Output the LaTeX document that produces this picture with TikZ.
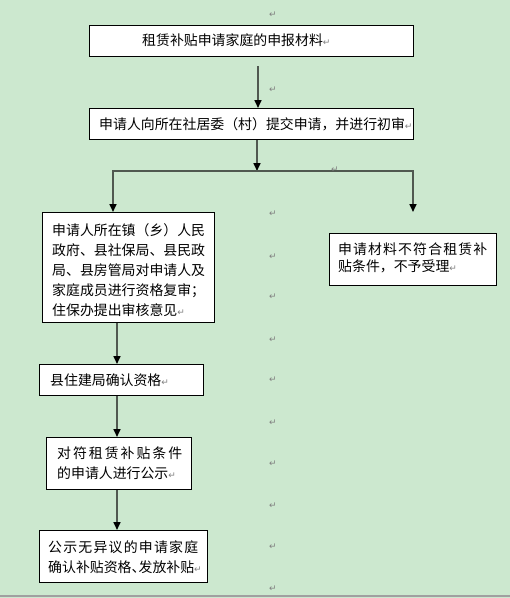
\documentclass[tikz,border=0pt]{standalone}
\usepackage{fontspec}
\usetikzlibrary{arrows.meta}
\newfontfamily\cjk{Noto Sans CJK SC}
\newfontfamily\pmfont{DejaVu Sans}
\definecolor{bgc}{RGB}{204,232,207}
\definecolor{pmgray}{RGB}{128,128,128}
\definecolor{lineclr}{RGB}{80,88,80}
\definecolor{bottomgray}{RGB}{160,160,160}
\newcommand{\pmk}{{\pmfont\fontsize{9pt}{9pt}\selectfont\color{pmgray}↵}}
\tikzset{
  box/.style={draw=black, fill=white, line width=1.2pt, inner sep=0pt, anchor=north west},
  txt/.style={font=\cjk\fontsize{13.9pt}{20pt}\selectfont, inner sep=0pt, anchor=west, align=left},
  pm/.style={font=\pmfont\fontsize{9pt}{9pt}\selectfont, text=pmgray, inner sep=0pt},
  conn/.style={draw=lineclr, line width=1.6pt},
  arr/.style={conn, -{Triangle[length=8pt,width=7pt,color=black]}}
}
\begin{document}
\begin{tikzpicture}[x=1pt,y=-1pt]
\path[fill=bgc, use as bounding box] (0,0) rectangle (510,598);
\draw[bottomgray, line width=2pt] (0,595.5) -- (510,595.5);

% boxes
\node[box, minimum width=324pt, minimum height=31pt] (b1) at (89,25) {};
\node[box, minimum width=324pt, minimum height=31pt] (b2) at (89,108) {};
\node[box, minimum width=172.5pt, minimum height=110pt] (bl) at (41.5,212) {};
\node[box, minimum width=167pt, minimum height=52pt] (br) at (329,233) {};
\node[box, minimum width=164pt, minimum height=31pt] (b3) at (39,364) {};
\node[box, minimum width=145pt, minimum height=52pt] (b4) at (46,437) {};
\node[box, minimum width=168pt, minimum height=52pt] (b5) at (39,530) {};

% texts
\node[txt] (t1) at (142,40.5) {租赁补贴申请家庭的申报材料\pmk};
\node[txt] (t2) at (99,124) {申请人向所在社居委（村）提交申请，并进行初审\pmk};
\node[txt] (tl) at (52,270) {申请人所在镇（乡）人民\\政府、县社保局、县民政\\局、县房管局对申请人及\\家庭成员进行资格复审；\\住保办提出审核意见\pmk};
\node[txt, font=\cjk\fontsize{13.9pt}{17pt}\selectfont] (tr) at (338,257.5) {\hbox to 149pt{申\hfil 请\hfil 材\hfil 料\hfil 不\hfil 符\hfil 合\hfil 租\hfil 赁\hfil 补}\\贴条件，不予受理\pmk};
\node[txt] (t3) at (50,380) {县住建局确认资格\pmk};
\node[txt] (t4) at (57,463) {\hbox to 125pt{对\hfil 符\hfil 租\hfil 赁\hfil 补\hfil 贴\hfil 条\hfil 件}\\的申请人进行公示\pmk};
\node[txt] (t5) at (48,557) {\hbox to 150pt{公\hfil 示\hfil 无\hfil 异\hfil 议\hfil 的\hfil 申\hfil 请\hfil 家\hfil 庭}\\确认补贴资格\makebox[7pt][l]{、}发放补贴\pmk};

% connectors
\coordinate (c1) at (258,66);
\draw[arr] (c1) -- (c1 |- b2.north);
\coordinate (j) at (257,171);
\draw[arr] (b2.south -| j) -- (j);
\coordinate (hl) at (113,171);
\coordinate (hr) at (413,171);
\coordinate (rt) at (413,212);
\draw[arr] (hr) -- (hl) -- (hl |- bl.north);
\draw[arr] (hl) -- (hr) -- (rt);
\coordinate (cx) at (117,0);
\draw[arr] (cx |- bl.south) -- (cx |- b3.north);
\draw[arr] (cx |- b3.south) -- (cx |- b4.north);
\draw[arr] (cx |- b4.south) -- (cx |- b5.north);

% paragraph marks
\foreach \yy [count=\i] in {15,90,214,257,297,340,380,423,464,506,547,589}
  \node[pm] (p\i) at (273,\yy) {↵};
\node[pm] (pj) at (335,170) {↵};
\end{tikzpicture}
\end{document}
